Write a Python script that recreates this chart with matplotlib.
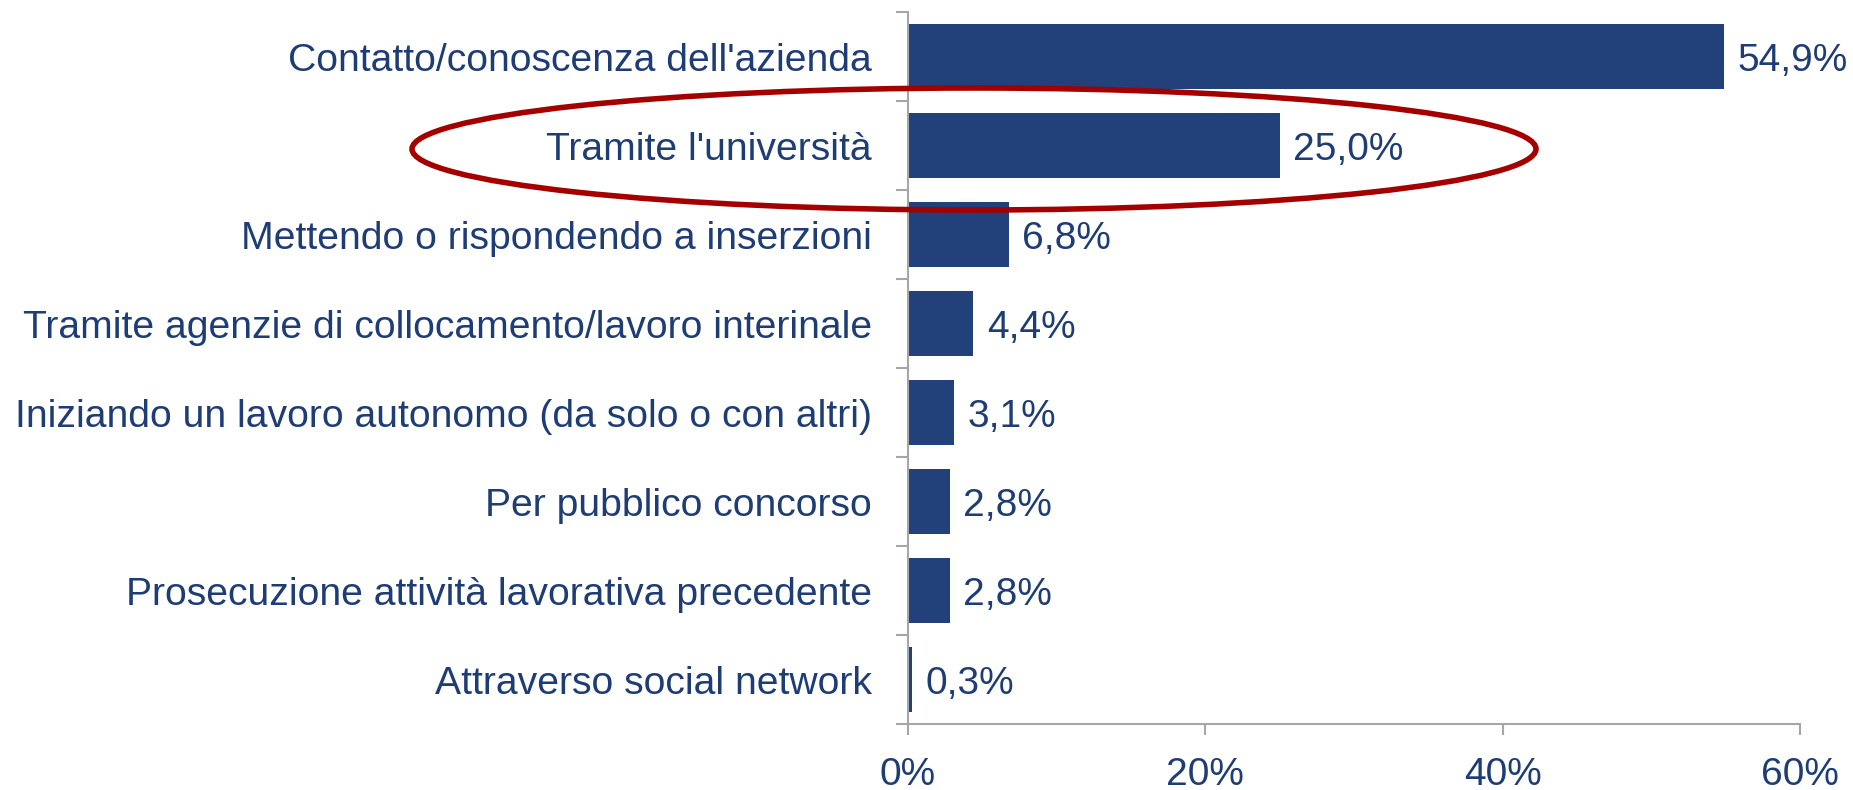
import matplotlib.pyplot as plt
from matplotlib.patches import Ellipse
from matplotlib.ticker import FixedLocator

# 数据
categories = [
    "Contatto/conoscenza dell'azienda",
    "Tramite l'università",
    "Mettendo o rispondendo a inserzioni",
    "Tramite agenzie di collocamento/lavoro interinale",
    "Iniziando un lavoro autonomo (da solo o con altri)",
    "Per pubblico concorso",
    "Prosecuzione attività lavorativa precedente",
    "Attraverso social network",
]
values = [54.9, 25.0, 6.8, 4.4, 3.1, 2.8, 2.8, 0.3]
xticks = [0, 20, 40, 60]

bar_color = '#22407A'
text_color = '#1F3D75'
axis_color = '#A6A6A6'

plt.rcParams['font.family'] = ['Liberation Sans', 'DejaVu Sans']

fig = plt.figure(figsize=(18.53, 7.9), dpi=100)
ax = fig.add_axes([0.490, 0.0835, 0.4814, 0.9013])

ypos = list(range(len(categories)))
ax.barh(ypos, values, height=0.72, color=bar_color)

# 数值标签
for y, v in zip(ypos, values):
    ax.text(v + 0.9, y, f"{v:.1f}%".replace('.', ','), va='center_baseline', ha='left',
            fontsize=28, color=text_color)

ax.set_xlim(0, 60)
ax.set_ylim(len(categories) - 0.5, -0.5)

ax.set_yticks(ypos)
ax.set_yticklabels(categories, va='center_baseline')
ax.tick_params(axis='y', which='major', length=0, pad=26, labelsize=28.2, labelcolor=text_color)
ax.yaxis.set_minor_locator(FixedLocator([i - 0.5 for i in range(len(categories) + 1)]))
ax.tick_params(axis='y', which='minor', length=8.6, width=1.5, color=axis_color)

ax.set_xticks(xticks)
ax.set_xticklabels([f"{t}%" for t in xticks])
ax.tick_params(axis='x', length=8, width=1.5, color=axis_color, pad=16,
               labelsize=28, labelcolor=text_color)

for side in ['top', 'right']:
    ax.spines[side].set_visible(False)
for side in ['left', 'bottom']:
    ax.spines[side].set_color(axis_color)
    ax.spines[side].set_linewidth(1.5)

# 红色椭圆
ell = Ellipse((974 / 1853, 1 - 149 / 790), 1124 / 1853, 122 / 790,
              transform=fig.transFigure, fill=False, edgecolor='#A50000',
              linewidth=4, clip_on=False)
fig.patches.append(ell)

fig.savefig('out.png', dpi=100)
